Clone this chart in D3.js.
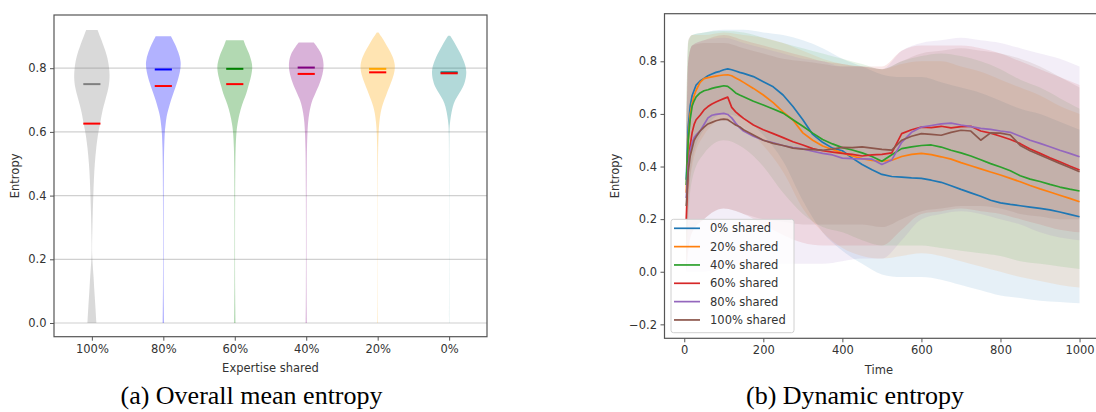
<!DOCTYPE html>
<html><head><meta charset="utf-8">
<script src="https://cdn.jsdelivr.net/npm/d3@7"></script>
<style>
body{margin:0;background:#fff}
svg{display:block}
</style>
</head><body>
<svg id="c" width="1096" height="412"></svg>
<script>
// ---------- Left panel data (violins) ----------
const violinCategories = ["100%","80%","60%","40%","20%","0%"];
const violinColors = ["#808080","#0000ff","#008000","#800080","#ffa500","#008080"];
const violinGroupLine = [0.750,0.796,0.798,0.802,0.798,0.787];
const violinRedLine = [0.626,0.744,0.750,0.782,0.787,0.784];
const violinTicks = [0.0,0.2,0.4,0.6,0.8];
// [entropy value, relative density width]
const violin100 = [[0.92,0.32],[0.90,0.45],[0.87,0.66],[0.84,0.85],[0.80,0.98],[0.77,1.0],[0.74,0.95],[0.70,0.75],[0.66,0.56],[0.63,0.48],[0.60,0.36],[0.55,0.24],[0.50,0.16],[0.45,0.11],[0.40,0.08],[0.35,0.05],[0.30,0.03],[0.25,0.012],[0.22,0.008],[0.18,0.05],[0.15,0.09],[0.10,0.14],[0.05,0.20],[0.0,0.25]];
const violin80 = [[0.90,0.43],[0.88,0.62],[0.85,0.85],[0.82,1.0],[0.79,0.95],[0.75,0.75],[0.72,0.55],[0.70,0.43],[0.67,0.28],[0.65,0.18],[0.62,0.12],[0.60,0.08],[0.55,0.045],[0.50,0.03],[0.40,0.02],[0.30,0.015],[0.20,0.015],[0.10,0.02],[0.05,0.03],[0.0,0.04]];
const violin60 = [[0.888,0.49],[0.87,0.6],[0.85,0.78],[0.82,0.95],[0.80,1.0],[0.77,0.9],[0.74,0.74],[0.72,0.65],[0.70,0.5],[0.67,0.32],[0.64,0.2],[0.62,0.14],[0.60,0.09],[0.55,0.045],[0.50,0.03],[0.40,0.02],[0.30,0.015],[0.20,0.015],[0.10,0.02],[0.05,0.03],[0.0,0.04]];
const violin40 = [[0.881,0.42],[0.86,0.7],[0.84,0.9],[0.81,1.0],[0.78,0.92],[0.75,0.75],[0.72,0.5],[0.70,0.34],[0.68,0.24],[0.66,0.17],[0.63,0.1],[0.60,0.07],[0.55,0.04],[0.50,0.03],[0.40,0.02],[0.30,0.015],[0.20,0.015],[0.10,0.02],[0.05,0.025],[0.0,0.035]];
const violin20 = [[0.912,0.05],[0.90,0.2],[0.88,0.42],[0.86,0.62],[0.84,0.82],[0.81,1.0],[0.78,0.92],[0.75,0.72],[0.72,0.5],[0.70,0.37],[0.68,0.24],[0.66,0.16],[0.63,0.09],[0.60,0.05],[0.55,0.025],[0.50,0.015],[0.40,0.008],[0.30,0.006],[0.20,0.006],[0.10,0.008],[0.05,0.01],[0.0,0.015]];
const violin0 = [[0.902,0.05],[0.89,0.2],[0.87,0.4],[0.85,0.6],[0.82,0.85],[0.79,1.0],[0.76,0.9],[0.74,0.78],[0.72,0.55],[0.70,0.33],[0.68,0.2],[0.66,0.13],[0.64,0.07],[0.62,0.03],[0.60,0.012],[0.50,0.006],[0.30,0.004],[0.10,0.004],[0.0,0.006]];
const violinProfiles = [violin100,violin80,violin60,violin40,violin20,violin0];

// ---------- Right panel data (dynamic entropy) ----------
const seriesNames = ["0% shared","20% shared","40% shared","60% shared","80% shared","100% shared"];
const seriesColors = ["#1f77b4","#ff7f0e","#2ca02c","#d62728","#9467bd","#8c564b"];
const timePoints = [5,10,15,20,25,30,40,50,60,70,80,90,100,110,120,130,140,150,175,200,225,250,275,300,325,350,375,400,425,450,475,500,525,550,575,600,625,650,675,700,725,750,775,800,825,850,875,900,925,950,975,1000];
const entropy0 = [0.35,0.55,0.63,0.67,0.69,0.71,0.725,0.735,0.745,0.752,0.758,0.762,0.768,0.771,0.768,0.763,0.758,0.754,0.742,0.722,0.703,0.672,0.628,0.578,0.522,0.492,0.470,0.460,0.432,0.408,0.388,0.370,0.362,0.360,0.357,0.355,0.348,0.340,0.327,0.313,0.300,0.287,0.272,0.262,0.256,0.251,0.246,0.241,0.235,0.227,0.218,0.209];
const entropy20 = [0.30,0.50,0.60,0.64,0.67,0.69,0.72,0.734,0.738,0.741,0.744,0.746,0.748,0.749,0.745,0.737,0.729,0.720,0.697,0.672,0.643,0.608,0.577,0.528,0.500,0.478,0.465,0.452,0.440,0.430,0.423,0.420,0.424,0.438,0.446,0.450,0.445,0.437,0.428,0.415,0.403,0.391,0.379,0.368,0.355,0.342,0.328,0.315,0.303,0.291,0.279,0.266];
const entropy40 = [0.33,0.50,0.58,0.63,0.65,0.665,0.68,0.688,0.692,0.697,0.701,0.704,0.707,0.705,0.693,0.680,0.672,0.665,0.648,0.634,0.619,0.603,0.578,0.553,0.527,0.503,0.486,0.472,0.463,0.452,0.438,0.420,0.445,0.468,0.475,0.480,0.482,0.474,0.462,0.452,0.440,0.426,0.411,0.398,0.384,0.365,0.352,0.343,0.332,0.322,0.314,0.307];
const entropy60 = [0.20,0.40,0.48,0.53,0.56,0.578,0.595,0.615,0.628,0.638,0.645,0.652,0.658,0.664,0.625,0.608,0.595,0.583,0.558,0.540,0.525,0.510,0.494,0.482,0.468,0.460,0.455,0.450,0.446,0.440,0.444,0.446,0.452,0.525,0.540,0.550,0.548,0.553,0.547,0.552,0.553,0.535,0.527,0.515,0.503,0.487,0.467,0.450,0.433,0.418,0.402,0.387];
const entropy80 = [0.28,0.40,0.46,0.49,0.51,0.52,0.535,0.56,0.585,0.595,0.598,0.600,0.602,0.598,0.585,0.565,0.548,0.535,0.515,0.500,0.490,0.480,0.472,0.467,0.458,0.450,0.444,0.432,0.430,0.429,0.428,0.408,0.425,0.492,0.530,0.550,0.556,0.562,0.565,0.558,0.552,0.545,0.541,0.535,0.530,0.515,0.500,0.488,0.475,0.462,0.450,0.437];
const entropy100 = [0.25,0.38,0.44,0.47,0.50,0.513,0.535,0.55,0.562,0.568,0.574,0.578,0.580,0.578,0.568,0.558,0.551,0.540,0.520,0.500,0.488,0.480,0.470,0.466,0.464,0.462,0.466,0.473,0.472,0.475,0.470,0.465,0.462,0.500,0.515,0.525,0.522,0.519,0.530,0.538,0.535,0.500,0.528,0.527,0.520,0.480,0.460,0.444,0.428,0.412,0.396,0.380];
const entropySeries = [entropy0,entropy20,entropy40,entropy60,entropy80,entropy100];

const bandTimes = [5,10,20,50,100,150,200,250,300,350,400,450,500,550,600,650,700,750,800,850,900,950,1000];
const band0Low   = [0.10,0.25,0.42,0.54,0.60,0.58,0.52,0.42,0.27,0.15,0.08,0.03,-0.01,-0.02,-0.02,-0.03,-0.05,-0.07,-0.09,-0.10,-0.11,-0.115,-0.12];
const band0High  = [0.60,0.88,0.90,0.91,0.92,0.92,0.91,0.90,0.88,0.85,0.81,0.78,0.75,0.74,0.74,0.72,0.70,0.68,0.65,0.62,0.60,0.57,0.54];
const band20Low  = [0.0,0.25,0.40,0.52,0.58,0.55,0.48,0.38,0.24,0.15,0.09,0.06,0.05,0.06,0.07,0.06,0.04,0.02,0.0,-0.02,-0.035,-0.05,-0.06];
const band20High = [0.60,0.88,0.90,0.90,0.91,0.90,0.89,0.87,0.84,0.81,0.79,0.78,0.77,0.79,0.80,0.80,0.78,0.76,0.73,0.70,0.67,0.63,0.60];
const band40Low  = [0.0,0.20,0.35,0.45,0.50,0.47,0.40,0.30,0.22,0.17,0.15,0.12,0.10,0.10,0.10,0.09,0.08,0.07,0.06,0.04,0.03,0.02,0.01];
const band40High = [0.60,0.87,0.90,0.91,0.915,0.91,0.89,0.87,0.85,0.83,0.81,0.79,0.77,0.80,0.82,0.83,0.82,0.80,0.77,0.73,0.70,0.66,0.62];
const band60Low  = [0.0,0.08,0.15,0.20,0.24,0.22,0.18,0.14,0.11,0.10,0.10,0.10,0.10,0.16,0.22,0.23,0.24,0.23,0.22,0.20,0.18,0.16,0.15];
const band60High = [0.50,0.80,0.86,0.88,0.90,0.88,0.86,0.84,0.82,0.80,0.79,0.78,0.78,0.84,0.86,0.86,0.86,0.85,0.83,0.80,0.77,0.74,0.71];
const band80Low  = [0.0,0.0,0.0,0.0,0.02,0.03,0.03,0.03,0.03,0.03,0.04,0.05,0.05,0.12,0.20,0.22,0.23,0.22,0.20,0.18,0.15,0.13,0.12];
const band80High = [0.50,0.80,0.86,0.88,0.89,0.87,0.85,0.83,0.81,0.80,0.78,0.78,0.77,0.84,0.87,0.88,0.89,0.88,0.87,0.85,0.83,0.81,0.78];
const band100Low = [0.0,0.08,0.15,0.20,0.24,0.22,0.20,0.19,0.18,0.18,0.18,0.18,0.17,0.20,0.23,0.24,0.25,0.25,0.24,0.22,0.21,0.20,0.20];
const band100High= [0.50,0.80,0.86,0.87,0.87,0.85,0.83,0.81,0.80,0.79,0.78,0.78,0.77,0.80,0.83,0.84,0.85,0.84,0.83,0.81,0.78,0.74,0.70];
const bandLows = [band0Low,band20Low,band40Low,band60Low,band80Low,band100Low];
const bandHighs = [band0High,band20High,band40High,band60High,band80High,band100High];
const timeTicks = [0,200,400,600,800,1000];
const entropyTicks = [-0.2,0.0,0.2,0.4,0.6,0.8];

const captions = ["(a) Overall mean entropy","(b) Dynamic entropy"];

// ---------- Drawing ----------
const svg = d3.select("#c");
const tickFont = 11.5, spineColor = "#555", textColor = "#333";
const sans = "'DejaVu Sans', sans-serif";

function styleAxis(g){
  g.select(".domain").remove();
  g.selectAll(".tick line").attr("stroke",spineColor).attr("stroke-width",1);
  g.selectAll(".tick text").attr("font-size",tickFont).attr("fill",textColor).style("font-family",sans);
}

// Left panel
const L = {left:54, right:487, top:15, bottom:336.7};
const xL = d3.scaleLinear().domain([0.47,6.53]).range([L.left,L.right]);
const yL = d3.scaleLinear().domain([-0.043,0.967]).range([L.bottom,L.top]);
const gL = svg.append("g");
gL.selectAll("line.grid").data(violinTicks).join("line").attr("class","grid")
  .attr("x1",L.left).attr("x2",L.right).attr("y1",d=>yL(d)).attr("y2",d=>yL(d))
  .attr("stroke","#d0d0d0").attr("stroke-width",1.2);
violinProfiles.forEach((prof,i)=>{
  const pos=i+1;
  const area = d3.area().curve(d3.curveBasis)
    .y(d=>yL(d[0])).x0(d=>xL(pos-d[1]*0.25)).x1(d=>xL(pos+d[1]*0.25));
  gL.append("path").attr("d",area(prof)).attr("fill",violinColors[i]).attr("fill-opacity",0.3);
});
violinGroupLine.forEach((v,i)=>{
  gL.append("line").attr("x1",xL(i+1-0.12)).attr("x2",xL(i+1+0.12)).attr("y1",yL(v)).attr("y2",yL(v))
    .attr("stroke",violinColors[i]).attr("stroke-width",2);
});
violinRedLine.forEach((v,i)=>{
  gL.append("line").attr("x1",xL(i+1-0.12)).attr("x2",xL(i+1+0.12)).attr("y1",yL(v)).attr("y2",yL(v))
    .attr("stroke","#ff0000").attr("stroke-width",2);
});
gL.append("g").attr("transform",`translate(${L.left},0)`)
  .call(d3.axisLeft(yL).tickValues(violinTicks).tickFormat(d3.format(".1f")).tickSize(4).tickPadding(3.5)).call(styleAxis);
gL.append("g").attr("transform",`translate(0,${L.bottom})`)
  .call(d3.axisBottom(xL).tickValues([1,2,3,4,5,6]).tickFormat(d=>violinCategories[d-1]).tickSize(4).tickPadding(4)).call(styleAxis);
gL.append("rect").attr("x",L.left).attr("y",L.top).attr("width",L.right-L.left).attr("height",L.bottom-L.top)
  .attr("fill","none").attr("stroke",spineColor).attr("stroke-width",1.2);
gL.append("text").attr("x",(L.left+L.right)/2).attr("y",372).attr("text-anchor","middle")
  .attr("font-size",tickFont).attr("fill",textColor).style("font-family",sans).text("Expertise shared");
gL.append("text").attr("transform",`translate(19,${(L.top+L.bottom)/2}) rotate(-90)`).attr("text-anchor","middle")
  .attr("font-size",tickFont).attr("fill",textColor).style("font-family",sans).text("Entropy");

// Right panel
const R = {left:664.5, right:1099.3, top:13.7, bottom:338.3};
const xR = d3.scaleLinear().domain([-50,1050]).range([R.left,R.right]);
const yR = d3.scaleLinear().domain([-0.253,0.981]).range([R.bottom,R.top]);
const gR = svg.append("g");
svg.append("defs").append("clipPath").attr("id","clipR").append("rect")
  .attr("x",R.left).attr("y",R.top).attr("width",R.right-R.left).attr("height",R.bottom-R.top);
const plotR = gR.append("g").attr("clip-path","url(#clipR)");
bandLows.forEach((lows,i)=>{
  const data = bandTimes.map((t,k)=>({t, lo:lows[k], hi:bandHighs[i][k]}));
  const area = d3.area().curve(d3.curveMonotoneX).x(d=>xR(d.t)).y0(d=>yR(d.lo)).y1(d=>yR(d.hi));
  plotR.append("path").attr("d",area(data)).attr("fill",seriesColors[i]).attr("fill-opacity",0.11);
});
entropySeries.forEach((vals,i)=>{
  const data = timePoints.map((t,k)=>({t, v:vals[k]}));
  const line = d3.line().x(d=>xR(d.t)).y(d=>yR(d.v));
  plotR.append("path").attr("d",line(data)).attr("fill","none").attr("stroke",seriesColors[i])
    .attr("stroke-width",1.7).attr("stroke-linejoin","round");
});
gR.append("g").attr("transform",`translate(${R.left},0)`)
  .call(d3.axisLeft(yR).tickValues(entropyTicks).tickFormat(d3.format(".1f")).tickSize(4).tickPadding(3.5)).call(styleAxis);
gR.append("g").attr("transform",`translate(0,${R.bottom})`)
  .call(d3.axisBottom(xR).tickValues(timeTicks).tickFormat(d3.format("d")).tickSize(4).tickPadding(4)).call(styleAxis);
gR.append("rect").attr("x",R.left).attr("y",R.top).attr("width",R.right-R.left).attr("height",R.bottom-R.top)
  .attr("fill","none").attr("stroke",spineColor).attr("stroke-width",1.2);
gR.append("text").attr("x",(R.left+R.right)/2 - 3).attr("y",374).attr("text-anchor","middle")
  .attr("font-size",tickFont).attr("fill",textColor).style("font-family",sans).text("Time");
gR.append("text").attr("transform",`translate(619,${(R.top+R.bottom)/2}) rotate(-90)`).attr("text-anchor","middle")
  .attr("font-size",tickFont).attr("fill",textColor).style("font-family",sans).text("Entropy");

// Legend
const leg = gR.append("g");
leg.append("rect").attr("x",671).attr("y",219.3).attr("width",123).attr("height",113.4).attr("rx",2.5)
  .attr("fill","#fff").attr("fill-opacity",0.8).attr("stroke","#d0d0d0").attr("stroke-width",1);
seriesNames.forEach((n,i)=>{
  const yy = 228.3 + i*18.33;
  leg.append("line").attr("x1",674).attr("x2",700).attr("y1",yy).attr("y2",yy)
    .attr("stroke",seriesColors[i]).attr("stroke-width",1.7);
  leg.append("text").attr("x",710).attr("y",yy).attr("dy","0.36em").attr("font-size",tickFont)
    .attr("fill",textColor).style("font-family",sans).text(n);
});

// Captions
const capX = [251.5, 855];
captions.forEach((c,i)=>{
  svg.append("text").attr("x",capX[i]).attr("y",404).attr("text-anchor","middle")
    .style("font-family","'Liberation Serif','Times New Roman',serif").attr("font-size",26)
    .attr("fill","#000").text(c);
});
</script>
</body></html>
